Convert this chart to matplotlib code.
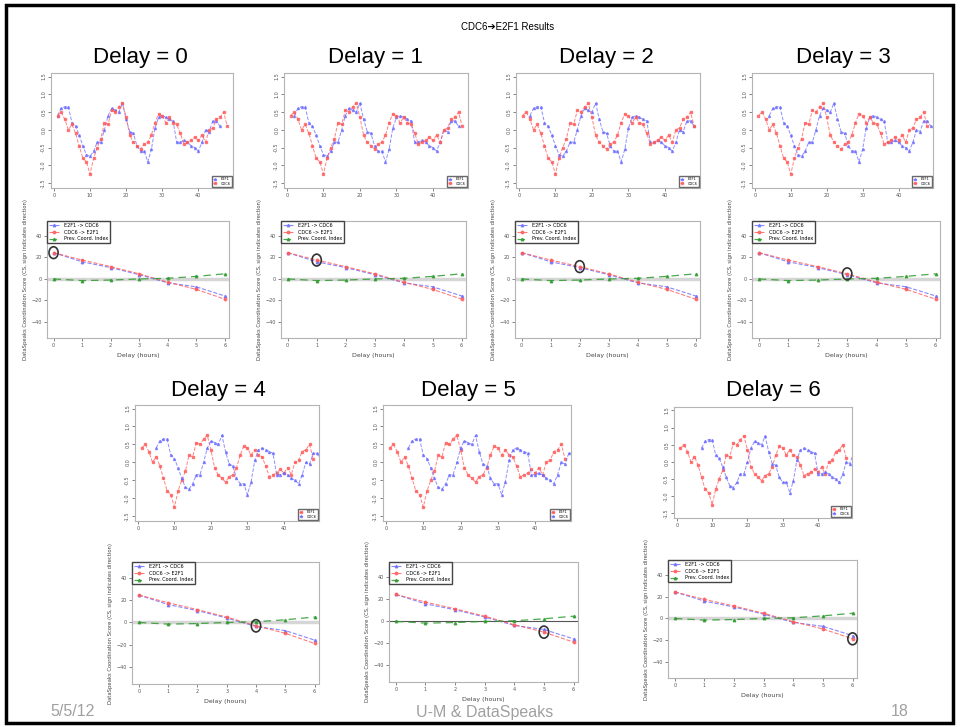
import matplotlib
matplotlib.use("Agg")
import matplotlib.pyplot as plt
from matplotlib.patches import Ellipse, Rectangle

# ~~~~~~~~~~~~~~~~~~~~~~~~~~~~~~~~ Données ~~~~~~~~~~~~~~~~~~~~~~~~~~~~~~~~ #
# séries temporelles (lues sur le graphique Delay = 0)
e2f1_series = [0.4, 0.5, 0.3, 0.0, 0.15, -0.1, -0.45, -0.8, -0.9, -1.25,
               -0.8, -0.5, -0.25, 0.2, 0.15, 0.55, 0.5, 0.65, 0.75, 0.35,
               -0.15, -0.35, -0.45, -0.55, -0.4, -0.35, -0.15, 0.2, 0.45, 0.4,
               0.2, 0.35, 0.2, 0.15, -0.1, -0.4, -0.35, -0.3, -0.2, -0.3,
               -0.15, -0.35, 0.0, 0.05, 0.3, 0.35, 0.5, 0.1]
cdc6_series = [0.4, 0.6, 0.65, 0.65, 0.2, 0.1, -0.15, -0.45, -0.7, -0.75,
               -0.6, -0.35, -0.35, 0.0, 0.4, 0.6, 0.55, 0.5, 0.75, 0.3,
               -0.05, -0.1, -0.45, -0.6, -0.6, -0.9, -0.55, 0.05, 0.35, 0.4,
               0.35, 0.3, 0.25, -0.35, -0.35, -0.3, -0.35, -0.45, -0.5, -0.6,
               -0.35, 0.0, -0.05, 0.25, 0.25, 0.1]
ts_yticks = [-1.5, -1.0, -0.5, 0.0, 0.5, 1.0, 1.5]
ts_xticks = [0, 10, 20, 30, 40]

# scores de coordination en fonction du délai
delay_hours = [0, 1, 2, 3, 4, 5, 6]
cs_e2f1_cdc6 = [24.5, 16, 10.6, 4, -3.6, -7.3, -15.8]
cs_cdc6_e2f1 = [24.5, 17.6, 11.5, 4.8, -3, -9.7, -18.8]
cs_prev = [0, -1.5, -1, 0, 0.6, 2.4, 4.8]
cs_yticks = [-40, -20, 0, 20, 40]

delays = [0, 1, 2, 3, 4, 5, 6]
labels_corr = ["E2F1 -> CDC6", "CDC6 -> E2F1", "Prev. Coord. Index"]

# ~~~~~~~~~~~~~~~~~~~~~~~~~~~~~~~ Mise en page ~~~~~~~~~~~~~~~~~~~~~~~~~~~~~~ #
W, H = 960, 727
RED = "#ff5a5a"
BLUE = "#6a6aff"
GREEN = "#2e9a2e"
GRID = "#b4b4b4"

ts_boxes = {0: (51, 73, 233, 188), 1: (284, 73, 468, 188),
            2: (516, 73, 700, 188), 3: (752, 73, 933, 188),
            4: (135, 405, 319, 521), 5: (383, 405, 571, 521),
            6: (674, 407, 852, 518)}
cs_boxes = {0: (47, 221, 229, 338), 1: (281, 221, 466, 338),
            2: (515, 221, 700, 338), 3: (752, 221, 940, 338),
            4: (132, 562, 319, 684), 5: (389, 562, 578, 682),
            6: (668, 560, 857, 678)}
title_pos = {0: (140, 58), 1: (375, 58), 2: (606, 58), 3: (843, 58),
             4: (218, 390), 5: (468, 390), 6: (773, 390)}


def rect(box):
    l, t, r, b = box
    return [l / W, 1 - b / H, (r - l) / W, (b - t) / H]


def style_axes(ax):
    for s in ax.spines.values():
        s.set_color(GRID)
        s.set_linewidth(0.8)
    ax.tick_params(labelsize=3.5, colors="#555555", length=2, width=0.5, pad=1.5)


fig = plt.figure(figsize=(9.6, 7.27), dpi=100)

# cadre noir de la diapositive
fig.patches.append(Rectangle((6 / W, 4 / H), 947 / W, 718 / H, transform=fig.transFigure,
                             fill=False, ec="black", lw=2.5))

fig.text(508 / W, 1 - 27 / H, "CDC6\u2794E2F1 Results", ha="center", va="center",
         fontsize=7, family=["Liberation Sans", "DejaVu Sans"])

for d in delays:
    x, y = title_pos[d]
    fig.text(x / W, 1 - y / H, "Delay = %d" % d, ha="center", va="center",
             fontsize=16, family="Liberation Sans")

    # ~~~~~~~~~~~~~~~~~~~~~~~~~~ séries temporelles ~~~~~~~~~~~~~~~~~~~~~~~~~ #
    ax = fig.add_axes(rect(ts_boxes[d]))
    style_axes(ax)
    t_red = list(range(1, len(e2f1_series) + 1))
    t_blue = [i + d for i in range(1, len(cdc6_series) + 1)]
    if d < 4:
        ax.plot(t_blue, cdc6_series, ls="--", lw=0.7, color=BLUE, marker="^",
                ms=1.5, alpha=0.75, label="E2F1")
        ax.plot(t_red, e2f1_series, ls="--", lw=0.7, color=RED, marker="s",
                ms=1.5, alpha=0.75, label="CDC6")
    else:
        ax.plot(t_red, e2f1_series, ls="--", lw=0.7, color=RED, marker="s",
                ms=1.5, alpha=0.75, label="E2F1")
        ax.plot(t_blue, cdc6_series, ls="--", lw=0.7, color=BLUE, marker="^",
                ms=1.5, alpha=0.75, label="CDC6")
    ax.set_xlim(-0.8, 49.6)
    ax.set_ylim(-1.64, 1.6)
    ax.set_xticks(ts_xticks)
    ax.set_yticks(ts_yticks)
    ax.set_yticklabels([str(v) for v in ts_yticks], rotation=90, va="center")
    ax.legend(loc="lower right", fontsize=2.5, handlelength=1.5, borderpad=0.3,
              labelspacing=0.1, fancybox=False, edgecolor="#444444",
              borderaxespad=0.4)

    # ~~~~~~~~~~~~~~~~~~~~~~~~ scores de coordination ~~~~~~~~~~~~~~~~~~~~~~~ #
    ax = fig.add_axes(rect(cs_boxes[d]))
    style_axes(ax)
    if d == 5:
        ax.axhline(0, color="#555555", lw=0.8, zorder=1)
    else:
        ax.axhline(0, color="#d6d6d6", lw=2.5, zorder=1)
    ax.plot(delay_hours, cs_e2f1_cdc6, ls="--", lw=0.8, color=BLUE, marker="^",
            ms=1.8, alpha=0.8, label=labels_corr[0])
    ax.plot(delay_hours, cs_cdc6_e2f1, ls="--", lw=0.8, color=RED, marker="o",
            ms=1.8, alpha=0.8, label=labels_corr[1])
    ax.plot(delay_hours, cs_prev, ls=(0, (6, 4)), lw=0.9, color=GREEN, marker="^",
            ms=1.8, alpha=0.85, label=labels_corr[2])
    ax.add_patch(Ellipse((d, cs_cdc6_e2f1[d]), 0.32, 11, fill=False, ec="#333333",
                         lw=1.2, clip_on=False, zorder=5))
    ax.set_xlim(-0.23, 6.15)
    ax.set_ylim(-55, 54)
    ax.set_xticks(delay_hours)
    ax.set_yticks(cs_yticks)
    ax.set_xlabel("Delay (hours)", fontsize=4.5, color="#444444", labelpad=4)
    ax.set_ylabel("DataSpeaks Coordination Score (CS, sign indicates direction)",
                  fontsize=3.8, color="#444444", labelpad=3)
    ax.legend(loc="upper left", fontsize=3.5, handlelength=2.2, borderpad=0.4,
              labelspacing=0.35, fancybox=False, edgecolor="#444444",
              borderaxespad=0.0, framealpha=1)

# pied de page
foot = dict(fontsize=11.5, color="#a0a0a0", va="center", family="Liberation Sans")
fig.text(50 / W, 1 - 712 / H, "5/5/12", ha="left", **foot)
fig.text(485 / W, 1 - 712 / H, "U-M & DataSpeaks", ha="center", **foot)
fig.text(900 / W, 1 - 712 / H, "18", ha="center", **foot)

fig.savefig("out.png", dpi=100)
